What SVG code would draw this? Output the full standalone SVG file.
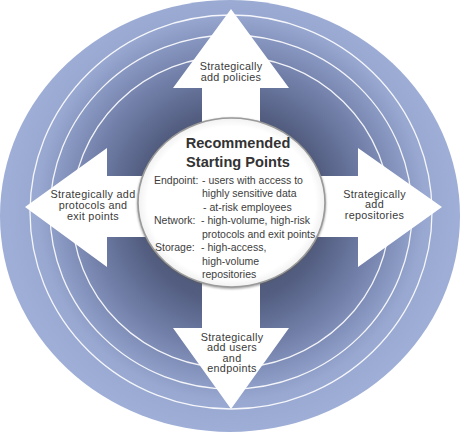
<svg xmlns="http://www.w3.org/2000/svg" width="462" height="433" viewBox="0 0 462 433">
  <defs>
    <radialGradient id="discFill" gradientUnits="userSpaceOnUse" cx="231" cy="207" r="225">
      <stop offset="0" stop-color="#454d6e"/>
      <stop offset="0.42" stop-color="#525d80"/>
      <stop offset="0.66" stop-color="#7684ae"/>
      <stop offset="0.86" stop-color="#98a8d1"/>
      <stop offset="1" stop-color="#9eaed7"/>
    </radialGradient>
    <radialGradient id="hubFill" cx="0.5" cy="0.5" r="0.5">
      <stop offset="0.9" stop-color="#ffffff"/>
      <stop offset="1" stop-color="#f1f1f1"/>
    </radialGradient>
    <filter id="soft" x="-10%" y="-10%" width="120%" height="120%">
      <feGaussianBlur stdDeviation="1.2"/>
    </filter>
  </defs>
  <style>
    .ring { fill: none; stroke: #ffffff; stroke-width: 1.3; opacity: 0.9; }
    .label { font-family: "Liberation Sans", Arial, sans-serif; font-size: 10.8px; letter-spacing: 0.3px; fill: #3a3a3a; text-anchor: middle; }
    .title { font-family: "Liberation Sans", Arial, sans-serif; font-size: 14.6px; font-weight: bold; fill: #333333; text-anchor: middle; }
    .body { font-family: "Liberation Sans", Arial, sans-serif; font-size: 10.5px; fill: #3d3d3d; }
  </style>

  <rect width="462" height="433" fill="#ffffff"/>

  <!-- shaded disc with concentric rings -->
  <g id="disc">
    <ellipse cx="230" cy="216" rx="230" ry="216" fill="url(#discFill)"/>
    <ellipse class="ring" cx="231" cy="212" rx="201" ry="197"/>
    <ellipse class="ring" cx="231" cy="212" rx="181" ry="177"/>
    <ellipse class="ring" cx="231" cy="212" rx="159" ry="156"/>
  </g>

  <!-- four-way arrow -->
  <g id="connectors">
    <polygon fill="#ffffff" points="231,9 289,88 260,88 260,176 358,176 358,148 442,207 358,267 358,237 260,237 260,328 289,328 231,409 173,328 202,328 202,237 107,237 107,267 25,207 107,148 107,176 202,176 202,88 173,88"/>
  </g>

  <!-- central hub -->
  <g id="hub">
    <ellipse cx="231.5" cy="203.5" rx="94.5" ry="85.5" fill="#5a5a5a" opacity="0.55" filter="url(#soft)"/>
    <ellipse cx="231.5" cy="202.5" rx="93.5" ry="84.5" fill="url(#hubFill)" stroke="#9a9a9a" stroke-width="1.6"/>
    <text class="title" x="238" y="148">Recommended</text>
    <text class="title" x="238" y="167">Starting Points</text>
    <text class="body" x="154" y="184">Endpoint:</text>
    <text class="body" x="202" y="184">- users with access to</text>
    <text class="body" x="202" y="197">highly sensitive data</text>
    <text class="body" x="203" y="210.5">- at-risk employees</text>
    <text class="body" x="154" y="224">Network:</text>
    <text class="body" x="201" y="224">- high-volume, high-risk</text>
    <text class="body" x="202" y="237.5">protocols and exit points</text>
    <text class="body" x="155" y="251">Storage:</text>
    <text class="body" x="201" y="251">- high-access,</text>
    <text class="body" x="202" y="264.5">high-volume</text>
    <text class="body" x="202" y="278">repositories</text>
  </g>

  <g id="label-top">
    <text class="label" x="231" y="70">Strategically</text>
    <text class="label" x="231" y="81">add policies</text>
  </g>

  <g id="label-left">
    <text class="label" x="93" y="197.5">Strategically add</text>
    <text class="label" x="93" y="208.5">protocols and</text>
    <text class="label" x="93" y="219.5">exit points</text>
  </g>

  <g id="label-right">
    <text class="label" x="374.5" y="197.5">Strategically</text>
    <text class="label" x="374.5" y="208">add</text>
    <text class="label" x="374.5" y="218.5">repositories</text>
  </g>

  <g id="label-bottom">
    <text class="label" x="232" y="340.5">Strategically</text>
    <text class="label" x="232" y="351">add users</text>
    <text class="label" x="232" y="361.5">and</text>
    <text class="label" x="232" y="372">endpoints</text>
  </g>
</svg>
